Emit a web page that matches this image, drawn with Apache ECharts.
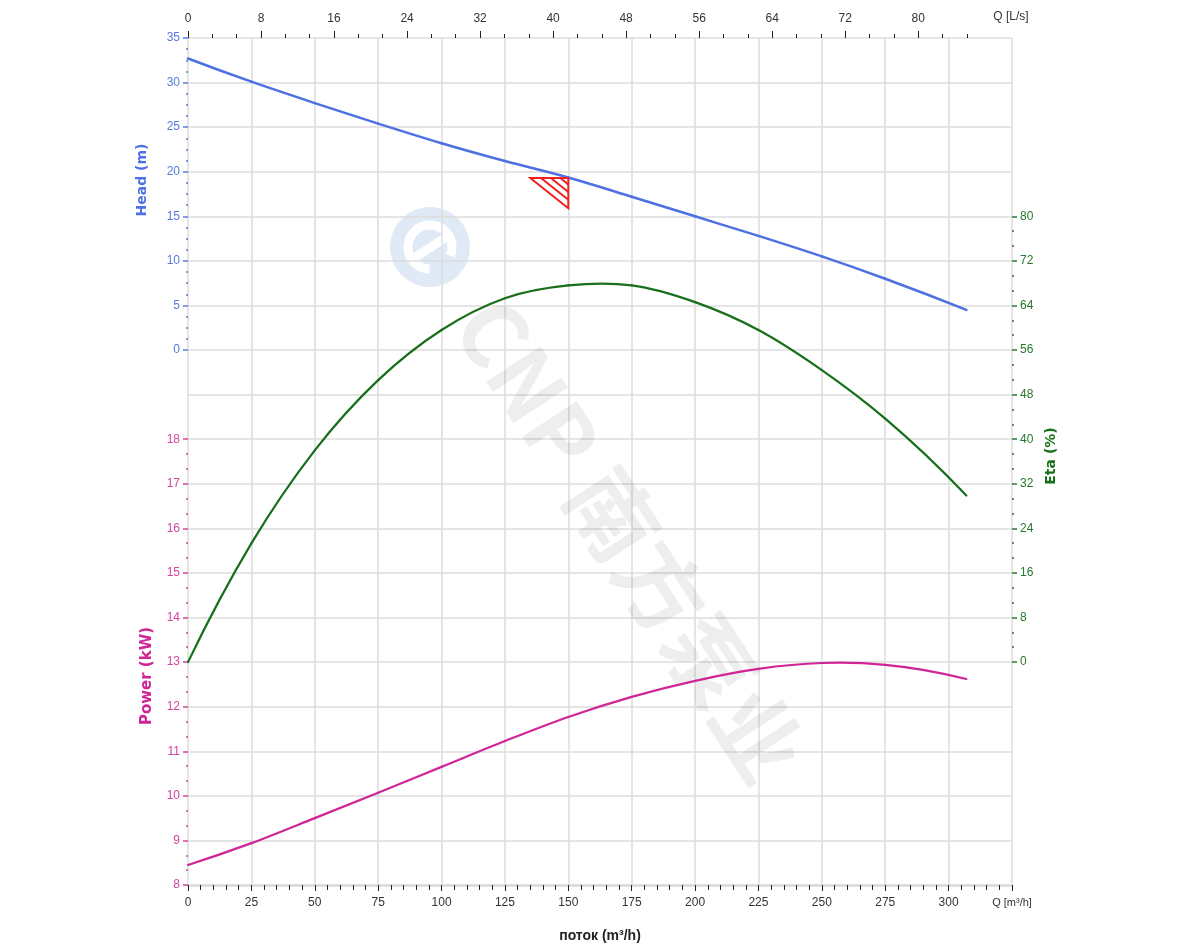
<!DOCTYPE html>
<html><head><meta charset="utf-8">
<script src="https://cdn.jsdelivr.net/npm/echarts@6/dist/echarts.min.js"></script>
<style>html,body{margin:0;padding:0;background:#fff}#c{width:1200px;height:950px}</style>
</head><body><div id="c"></div>
<script>
// ---- data ----
const flowQ   = [0, 25, 50, 75, 100, 125, 150, 175, 200, 225, 250, 275, 307];          // m3/h
const headM   = [32.7, 30.1, 27.7, 25.4, 23.2, 21.2, 19.35, 17.2, 15.0, 12.8, 10.5, 8.0, 4.5];
const etaPct  = [0, 21.3, 38.0, 50.6, 59.6, 65.3, 67.6, 67.6, 64.6, 59.6, 52.4, 43.7, 29.9];
const powerKW = [8.45, 8.94, 9.5, 10.07, 10.65, 11.23, 11.77, 12.22, 12.58, 12.85, 12.98, 12.94, 12.62];
const dutyTriangleQ = [135, 150, 150];
const dutyTriangleH = [19.3, 19.3, 15.9];
const topTicksLs = [0, 8, 16, 24, 32, 40, 48, 56, 64, 72, 80];

// ---- layout ----
const L = 188, W = 824, T = 38, U = 847 / 19;
const NARROW = '"Liberation Sans Narrow","Arial Narrow","Liberation Sans",Arial,sans-serif';
const HEAD_C = '#4d70e2', ETA_C = '#176f1a', POW_C = '#cf2597';
const HEAD_L = '#5779e0', ETA_L = '#27782a', POW_L = '#d2449f';
const grid = '#dcdcdc';

const pairs = arr => flowQ.map((q, i) => [q, arr[i]]);

function sideAxis(gridIndex, min, max, interval, pos, color, split) {
  return {
    type: 'value', gridIndex, min, max, interval, position: pos,
    axisLine: { show: false, onZero: false },
    axisTick: { show: true, length: 5, lineStyle: { color, width: 1.5 } },
    minorTick: { show: true, splitNumber: split, length: 2, lineStyle: { color, width: 1.5 } },
    splitLine: { show: false },
    axisLabel: { color, fontFamily: NARROW, fontSize: 12, margin: 8 }
  };
}
const hiddenX = gi => ({ type: 'value', gridIndex: gi, min: 0, max: 325, show: false, axisLine: { onZero: false } });

// smooth curve through the data points (cubic Hermite segments in pixel space)
function curveSeries(name, values, xi, yi, color, width) {
  return {
    type: 'custom', name, xAxisIndex: xi, yAxisIndex: yi, data: pairs(values), z: 5,
    renderItem: function (params, api) {
      const i = params.dataIndex, n = flowQ.length;
      if (i >= n - 1) return null;
      const P = flowQ.map((q, k) => api.coord([q, values[k]]));
      const sec = k => (P[k + 1][1] - P[k][1]) / (P[k + 1][0] - P[k][0]);
      const inner = k => {
        const h0 = P[k][0] - P[k - 1][0], h1 = P[k + 1][0] - P[k][0];
        return (h0 * sec(k) + h1 * sec(k - 1)) / (h0 + h1);
      };
      const slope = k => k === 0 ? 2 * sec(0) - inner(1)
                    : k === n - 1 ? 2 * sec(n - 2) - inner(n - 2) : inner(k);
      const a = P[i], b = P[i + 1], dx = (b[0] - a[0]) / 3;
      const m0 = slope(i), m1 = slope(i + 1);
      return {
        type: 'bezierCurve',
        shape: { x1: a[0], y1: a[1], x2: b[0], y2: b[1],
                 cpx1: a[0] + dx, cpy1: a[1] + m0 * dx, cpx2: b[0] - dx, cpy2: b[1] - m1 * dx },
        style: { stroke: color, lineWidth: width, fill: null, lineCap: 'round' }
      };
    }
  };
}

const chart = echarts.init(document.getElementById('c'), null, { renderer: 'canvas' });
chart.setOption({
  animation: false,
  backgroundColor: '#fff',
  grid: [
    { left: L, width: W, top: T, height: 19 * U },            // background
    { left: L, width: W, top: T, height: 7 * U },             // head
    { left: L, width: W, top: T + 4 * U, height: 10 * U },    // eta
    { left: L, width: W, top: T + 9 * U, height: 10 * U },    // power
    { left: L, width: 88 * 3.6 * W / 325, top: T, height: 19 * U } // L/s axis
  ],
  xAxis: [
    { type: 'value', gridIndex: 0, min: 0, max: 325, interval: 25, position: 'bottom',
      axisLine: { show: true, onZero: false, lineStyle: { color: '#dedede', width: 3 } },
      axisTick: { show: true, length: 6, lineStyle: { color: '#222', width: 1 } },
      minorTick: { show: true, splitNumber: 5, length: 5, lineStyle: { color: '#222', width: 1 } },
      splitLine: { show: true, lineStyle: { color: grid, width: 1.5 } },
      axisLabel: { color: '#333', fontFamily: NARROW, fontSize: 12, margin: 12,
        formatter: v => v === 325 ? '{u|Q [m³/h]}' : String(v),
        rich: { u: { fontFamily: NARROW, fontSize: 11, color: '#333' } } } },
    { type: 'value', gridIndex: 4, min: 0, max: 88, interval: 8, position: 'top',
      axisLine: { show: false, onZero: false },
      axisTick: { show: true, length: 7, customValues: topTicksLs, lineStyle: { color: '#222', width: 1 } },
      minorTick: { show: true, splitNumber: 3, length: 4, lineStyle: { color: '#222', width: 1 } },
      splitLine: { show: false },
      axisLabel: { color: '#333', fontFamily: NARROW, fontSize: 12, margin: 13, customValues: topTicksLs } },
    { type: 'value', gridIndex: 0, min: 0, max: 325, position: 'bottom',
      axisLine: { show: false, onZero: false }, axisTick: { show: false }, axisLabel: { show: false }, splitLine: { show: false },
      name: 'поток (m³/h)', nameLocation: 'middle', nameGap: 44,
      nameTextStyle: { color: '#222', fontFamily: NARROW, fontSize: 14, fontWeight: 'bold' } },
    hiddenX(1), hiddenX(2), hiddenX(3)
  ],
  yAxis: [
    { type: 'value', gridIndex: 0, min: 0, max: 19, interval: 1,
      axisLine: { show: false, onZero: false }, axisTick: { show: false }, axisLabel: { show: false },
      splitLine: { show: true, lineStyle: { color: grid, width: 1.5 } } },
    sideAxis(1, 0, 35, 5, 'left', HEAD_L, 4),
    sideAxis(2, 0, 80, 8, 'right', ETA_L, 3),
    sideAxis(3, 8, 18, 1, 'left', POW_L, 3),
    { type: 'value', gridIndex: 4, min: 0, max: 1, show: false, axisLine: { onZero: false } }
  ],
  graphic: [
    { type: 'group', x: 430, y: 247, rotation: -0.99, z: 1, children: [
      { type: 'circle', shape: { cx: 0, cy: 0, r: 40 }, style: { fill: '#dfeaf6' } },
      { type: 'arc', shape: { cx: 0, cy: 0, r: 22, startAngle: 0.6, endAngle: 5.7 }, style: { stroke: '#fff', lineWidth: 9, fill: null } },
      { type: 'rect', shape: { x: -4, y: -26, width: 9, height: 52 }, style: { fill: '#fff' } }
    ]},
    { type: 'text', x: 630, y: 540, rotation: -0.99, z: 1,
      style: { text: 'CNP 南方泵业', font: 'bold 88px "Noto Sans CJK SC", "DejaVu Sans", sans-serif',
               fill: 'rgba(0,0,0,0.065)', align: 'center', verticalAlign: 'middle' } },
    { type: 'text', x: 1011, y: 17,
      style: { text: 'Q [L/s]', font: '12px ' + NARROW, fill: '#333', align: 'center', verticalAlign: 'middle' } },
    { type: 'text', x: 142, y: 180, rotation: Math.PI / 2,
      style: { text: 'Head (m)', font: 'bold 14px "DejaVu Sans", sans-serif', fill: HEAD_C, align: 'center', verticalAlign: 'middle' } },
    { type: 'text', x: 147, y: 676, rotation: Math.PI / 2,
      style: { text: 'Power (kW)', font: 'bold 15px "DejaVu Sans", sans-serif', fill: POW_C, align: 'center', verticalAlign: 'middle' } },
    { type: 'text', x: 1051, y: 456, rotation: Math.PI / 2,
      style: { text: 'Eta (%)', font: 'bold 14px "DejaVu Sans", sans-serif', fill: ETA_C, align: 'center', verticalAlign: 'middle' } }
  ],
  series: [
    curveSeries('Head', headM, 3, 1, HEAD_C, 2.5),
    curveSeries('Eta', etaPct, 4, 2, ETA_C, 2.2),
    curveSeries('Power', powerKW, 5, 3, POW_C, 2.2),
    { type: 'custom', name: 'Duty', xAxisIndex: 3, yAxisIndex: 1, data: [[dutyTriangleQ[1], dutyTriangleH[1]]], z: 6,
      renderItem: function (params, api) {
        const p = dutyTriangleQ.map((q, i) => api.coord([q, dutyTriangleH[i]]));
        const children = [{ type: 'polygon', shape: { points: p },
          style: { fill: null, stroke: '#f2211f', lineWidth: 2 } }];
        [0.28, 0.54, 0.79].forEach(t => {
          const a = [p[0][0] + (p[1][0] - p[0][0]) * t, p[0][1]];
          const b = [p[1][0], p[1][1] + (p[2][1] - p[1][1]) * (1 - t)];
          children.push({ type: 'line', shape: { x1: a[0], y1: a[1], x2: b[0], y2: b[1] },
            style: { stroke: '#f2211f', lineWidth: 2 } });
        });
        return { type: 'group', children };
      } }
  ]
});
</script></body></html>
